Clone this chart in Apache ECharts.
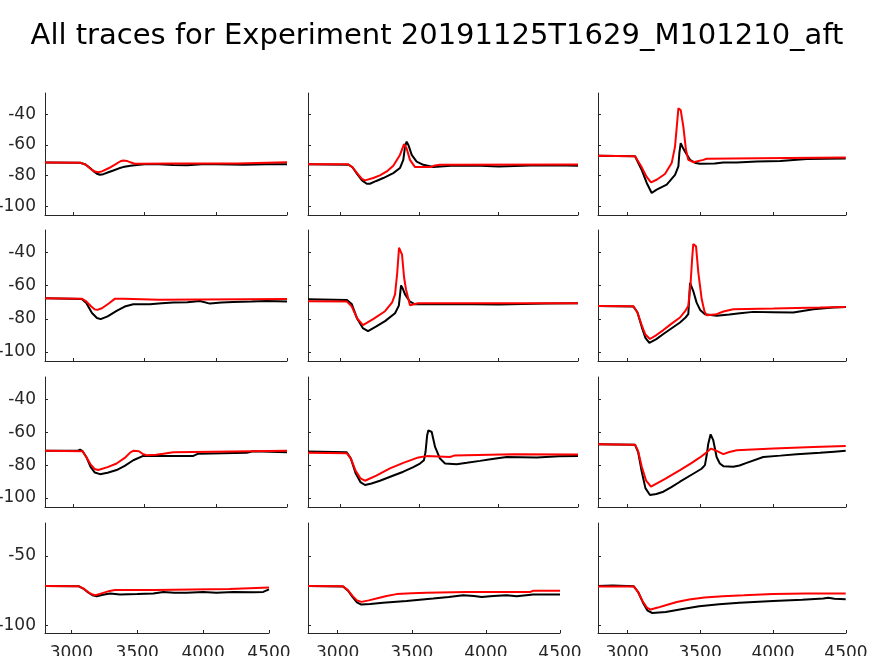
<!DOCTYPE html>
<html>
<head>
<meta charset="utf-8">
<script src="https://cdn.jsdelivr.net/npm/echarts@6/dist/echarts.min.js"></script>
<style>
html,body{margin:0;padding:0;background:#fff;}
#chart{width:874px;height:656px;}
</style>
</head>
<body>
<div id="chart"></div>
<script>
// ---- data (time in ms, membrane potential in mV) ----
const titleText = "All traces for Experiment 20191125T1629_M101210_aft";
const xTicks = [3000, 3500, 4000, 4500];
const yTicks = [-100, -80, -60, -40];
const yTicksBottom = [-100, -50];

// row 1
const exp_r1c1 = [[2800,-71.4],[3046,-71.6],[3080,-72.5],[3110,-74.5],[3140,-77],[3165,-78.7],[3186,-79.4],[3210,-79],[3250,-77.6],[3280,-76.6],[3320,-75.2],[3348,-74.4],[3400,-73.6],[3446,-73],[3500,-72.6],[3600,-72.6],[3700,-73],[3800,-73.2],[3900,-72.6],[4000,-72.6],[4200,-72.8],[4350,-72.6],[4500,-72.5]];
const sim_r1c1 = [[2800,-71.4],[3050,-71.6],[3085,-72.8],[3120,-75.5],[3150,-77.3],[3175,-77.8],[3200,-77.2],[3250,-75],[3300,-72.3],[3330,-70.6],[3350,-70.1],[3375,-70.4],[3400,-71.3],[3430,-72.2],[3446,-72.3],[3700,-72.1],[4150,-72],[4160,-71.4],[4500,-71.3]];
const exp_r1c2 = [[2800,-72.5],[3054,-72.8],[3080,-74.5],[3110,-79],[3140,-83],[3170,-85.2],[3190,-85.2],[3230,-83.4],[3274,-81.5],[3337,-78.3],[3379,-75],[3400,-69.7],[3411,-61.1],[3421,-57.9],[3432,-60],[3453,-66.5],[3484,-70.8],[3526,-72.9],[3589,-74.4],[3700,-73.6],[3850,-73.4],[4000,-74],[4200,-73.4],[4350,-73.2],[4500,-73.5]];
const sim_r1c2 = [[2800,-72.5],[3054,-72.6],[3080,-74.5],[3110,-78.5],[3140,-82],[3159,-83],[3211,-81.5],[3253,-79.8],[3296,-77.2],[3337,-73.5],[3379,-66.5],[3405,-59.5],[3420,-62],[3442,-69.7],[3474,-74.4],[3568,-74.4],[3600,-73.4],[3631,-72.9],[4500,-72.7]];
const exp_r1c3 = [[2800,-67.1],[3054,-67.4],[3065,-68.6],[3099,-76.1],[3134,-84.7],[3168,-91.2],[3202,-89],[3271,-85.8],[3328,-79.4],[3351,-74],[3358,-65],[3367,-58.9],[3380,-61.5],[3396,-64.3],[3431,-69.7],[3470,-71.8],[3499,-72.3],[3600,-72],[3659,-71.4],[3750,-71.4],[3888,-70.8],[4050,-70.4],[4231,-69.2],[4498,-68.8]];
const sim_r1c3 = [[2800,-67.1],[3054,-67.3],[3065,-67.9],[3099,-74.4],[3134,-80.8],[3163,-84.3],[3202,-82.6],[3259,-78.9],[3305,-71.8],[3328,-61.1],[3344,-43.9],[3351,-36.3],[3367,-37.4],[3385,-48.2],[3403,-63.2],[3419,-69.7],[3453,-71.2],[3522,-69.7],[3545,-69],[3900,-68.7],[4498,-68.2]];
// row 2
const exp_r2c1 = [[2800,-67.6],[3058,-68],[3090,-70.5],[3130,-76.5],[3165,-79.5],[3191,-80.2],[3240,-78.5],[3303,-75.2],[3360,-72.6],[3420,-71.2],[3537,-71.2],[3620,-70.6],[3701,-70.2],[3800,-70],[3888,-69.2],[3959,-70.8],[4040,-70.2],[4122,-69.8],[4250,-69.6],[4357,-69.2],[4500,-69.6]];
const sim_r2c1 = [[2800,-67.6],[3058,-67.8],[3090,-69.5],[3125,-72.5],[3150,-74.3],[3167,-74.6],[3200,-73.6],[3250,-70.6],[3292,-67.8],[3355,-67.8],[3362,-68.6],[3600,-68.5],[3610,-68],[4500,-68]];
const exp_r2c2 = [[2800,-68.2],[3045,-68.6],[3075,-71],[3110,-80],[3145,-85.6],[3178,-87.4],[3230,-84.6],[3285,-81.4],[3348,-76.6],[3372,-72],[3386,-59.8],[3398,-62],[3411,-65.2],[3440,-69.4],[3474,-71.2],[3700,-71],[4000,-71.4],[4300,-70.8],[4500,-70.6]];
const sim_r2c2 = [[2800,-69.4],[3045,-69.6],[3075,-72.5],[3110,-79.8],[3146,-83.8],[3210,-80.2],[3285,-75.4],[3330,-70],[3348,-65.2],[3362,-52],[3373,-37],[3392,-41.2],[3405,-55],[3417,-62.2],[3442,-71.8],[3493,-70.6],[4500,-70.6]];
const exp_r2c3 = [[2800,-72.2],[3042,-72.5],[3070,-76],[3100,-85],[3125,-91.5],[3152,-94.6],[3200,-92.3],[3248,-89.2],[3300,-86],[3362,-82.2],[3400,-79.2],[3419,-77.2],[3425,-68],[3431,-58.2],[3453,-63.2],[3476,-70.2],[3500,-74.6],[3533,-77.2],[3613,-78.2],[3700,-77.4],[3773,-76.6],[3864,-75.8],[4000,-76],[4139,-76.2],[4276,-74.2],[4413,-73.2],[4500,-72.8]];
const sim_r2c3 = [[2800,-72.2],[3042,-72.4],[3070,-76],[3100,-84],[3125,-89.5],[3156,-92.2],[3200,-89.8],[3248,-86.8],[3300,-83.2],[3362,-79.2],[3400,-75],[3419,-72.2],[3435,-58.2],[3445,-44],[3453,-34.8],[3472,-36.2],[3488,-52.2],[3511,-68.2],[3530,-75.6],[3545,-77.8],[3613,-77.2],[3660,-75.6],[3727,-74.2],[4002,-73.8],[4322,-73.2],[4498,-72.8]];
// row 3
const exp_r3c1 = [[2800,-71.3],[3030,-71.3],[3046,-70.6],[3064,-71.5],[3090,-75],[3120,-81],[3150,-84.5],[3186,-85.5],[3240,-84.6],[3303,-83],[3360,-80.4],[3420,-77],[3490,-74.4],[3678,-74.4],[3842,-74.4],[3877,-73],[4216,-72.5],[4263,-71.5],[4500,-72.1]];
const sim_r3c1 = [[2800,-71.3],[3064,-71.5],[3090,-75],[3120,-79.5],[3150,-82.4],[3174,-83],[3240,-81.2],[3303,-79],[3360,-75.6],[3400,-72.2],[3420,-71.3],[3460,-71.5],[3490,-73.4],[3514,-74],[3580,-73.6],[3631,-73],[3701,-72.1],[4240,-71.5],[4500,-71.3]];
const exp_r3c2 = [[2800,-71.7],[3044,-72.2],[3070,-76],[3100,-85],[3130,-90.3],[3159,-92.1],[3200,-91.2],[3253,-89.5],[3330,-86.6],[3400,-84],[3460,-81.4],[3505,-79],[3530,-77],[3540,-72],[3550,-62],[3558,-58.8],[3579,-59.8],[3600,-68.9],[3631,-76],[3663,-79],[3736,-79.4],[3800,-78.6],[3883,-77.4],[3960,-76.2],[4051,-75],[4240,-75.3],[4380,-74.6],[4500,-74.4]];
const sim_r3c2 = [[2800,-72.5],[3044,-72.7],[3070,-76],[3100,-83.5],[3130,-88],[3159,-89.5],[3230,-86.4],[3316,-82],[3400,-78.6],[3495,-75.3],[3547,-74.5],[3694,-75],[3720,-74.2],[3799,-73.9],[4093,-73.3],[4500,-73.5]];
const exp_r3c3 = [[2800,-67.3],[3054,-67.6],[3075,-72],[3100,-84],[3125,-94],[3156,-98.2],[3200,-97.6],[3248,-96.2],[3300,-93.6],[3362,-90.1],[3450,-85.4],[3510,-82.2],[3533,-80],[3545,-74],[3556,-66.9],[3572,-61.2],[3590,-64.8],[3613,-75],[3635,-79],[3659,-80.6],[3727,-81],[3770,-80.2],[3819,-78.6],[3933,-75],[4050,-74.2],[4162,-73.3],[4322,-72.5],[4420,-71.8],[4498,-71.3]];
const sim_r3c3 = [[2800,-67.3],[3054,-67.5],[3075,-71.5],[3100,-81],[3130,-89.5],[3163,-93.1],[3260,-88.4],[3362,-83],[3440,-78.8],[3499,-75.3],[3545,-72.2],[3575,-69.9],[3613,-71.3],[3659,-73.3],[3700,-72],[3751,-70.9],[4002,-69.9],[4276,-68.9],[4498,-68.3]];
// row 4
const exp_r4c1 = [[2800,-71.7],[3058,-71.9],[3090,-73.5],[3130,-76.5],[3160,-78.3],[3192,-79],[3240,-78],[3293,-77],[3369,-77.8],[3500,-77.4],[3622,-77],[3698,-75.9],[3780,-76.6],[3875,-76.6],[4000,-76],[4100,-76.6],[4229,-75.9],[4380,-76.2],[4456,-75.9],[4500,-74.1]];
const sim_r4c1 = [[2800,-71.7],[3058,-71.9],[3090,-73.4],[3130,-76.2],[3160,-77.8],[3184,-78.3],[3242,-76.6],[3290,-75.2],[3331,-74.6],[3630,-74.6],[3635,-73.9],[4200,-73.9],[4204,-72.7],[4500,-72.7]];
const exp_r4c2 = [[2800,-71.7],[3036,-72],[3070,-75],[3100,-79.5],[3130,-83.4],[3160,-85],[3220,-84.6],[3306,-83.8],[3464,-82.4],[3644,-80.7],[3750,-79.6],[3847,-78.3],[3920,-78.8],[3971,-79.5],[4050,-78.8],[4140,-78.3],[4208,-79],[4320,-77.8],[4500,-77.8]];
const sim_r4c2 = [[2800,-71.7],[3036,-71.9],[3070,-74.8],[3100,-78.8],[3130,-82],[3160,-83.1],[3210,-82],[3261,-80.7],[3330,-78.8],[3397,-77.5],[3500,-76.9],[3599,-76.6],[3870,-75.9],[4300,-75.9],[4320,-75.1],[4500,-75.1]];
const exp_r4c3 = [[2800,-71.6],[2900,-71.3],[3046,-71.9],[3075,-76],[3110,-84],[3140,-89.4],[3172,-91.1],[3264,-90.4],[3380,-88.2],[3494,-86.2],[3630,-84.8],[3770,-83.8],[4000,-82.4],[4200,-81.5],[4344,-80.7],[4380,-80.2],[4420,-80.8],[4498,-81.2]];
const sim_r4c3 = [[2800,-72],[3046,-72.1],[3075,-76],[3105,-82.5],[3135,-87.2],[3161,-88.6],[3210,-87.2],[3264,-85.5],[3340,-83.2],[3425,-81.4],[3530,-80],[3655,-79],[3800,-78.4],[4000,-77.5],[4229,-77],[4498,-77]];

const panels = [
  [exp_r1c1, sim_r1c1],[exp_r1c2, sim_r1c2],[exp_r1c3, sim_r1c3],
  [exp_r2c1, sim_r2c1],[exp_r2c2, sim_r2c2],[exp_r2c3, sim_r2c3],
  [exp_r3c1, sim_r3c1],[exp_r3c2, sim_r3c2],[exp_r3c3, sim_r3c3],
  [exp_r4c1, sim_r4c1],[exp_r4c2, sim_r4c2],[exp_r4c3, sim_r4c3]
];

// ---- layout ----
const rowBox = [[93,215],[230,361],[377,507],[523,633]];
const colBox = [[45,287],[308,578],[598,846]];
const colBoxBottom = [[45,269],[308,560],[598,846]];
const axisColor = '#262626';
const fontFamily = 'DejaVu Sans';

const grids = [], xAxes = [], yAxes = [], series = [];
for (let r = 0; r < 4; r++) {
  for (let c = 0; c < 3; c++) {
    const i = r * 3 + c;
    const cb = (r === 3 ? colBoxBottom : colBox)[c];
    grids.push({left: cb[0], width: cb[1] - cb[0], top: rowBox[r][0], height: rowBox[r][1] - rowBox[r][0],
      containLabel: false, outerBoundsMode: 'none'});
    xAxes.push({
      type: 'value', gridIndex: i, min: 2800, max: 4500,
      axisLine: {show: true, lineStyle: {color: axisColor, width: 1}},
      axisTick: {show: true, inside: true, length: 3, customValues: xTicks, lineStyle: {color: axisColor}},
      axisLabel: {show: r === 3, customValues: xTicks, formatter: v => String(v), color: axisColor, fontSize: 17, fontFamily: fontFamily, margin: 12},
      splitLine: {show: false}
    });
    const yt = r === 3 ? yTicksBottom : yTicks;
    yAxes.push({
      type: 'value', gridIndex: i, min: -105.5, max: -26.3,
      axisLine: {show: true, lineStyle: {color: axisColor, width: 1}},
      axisTick: {show: true, inside: true, length: 3, customValues: yt, lineStyle: {color: axisColor}},
      axisLabel: {show: c === 0, customValues: yt, formatter: v => String(v), color: axisColor, fontSize: 17, fontFamily: fontFamily, margin: 9},
      splitLine: {show: false}
    });
    series.push({type: 'line', xAxisIndex: i, yAxisIndex: i, data: panels[i][0], showSymbol: false, symbol: 'none',
      lineStyle: {color: '#000000', width: 2}, animation: false, z: 2});
    series.push({type: 'line', xAxisIndex: i, yAxisIndex: i, data: panels[i][1], showSymbol: false, symbol: 'none',
      lineStyle: {color: '#ff0000', width: 2}, animation: false, z: 3});
  }
}

const chart = echarts.init(document.getElementById('chart'), null, {renderer: 'canvas'});
chart.setOption({
  backgroundColor: '#ffffff',
  animation: false,
  title: {text: titleText, left: 'center', top: 17,
    textStyle: {fontFamily: fontFamily, fontSize: 29, fontWeight: 'normal', color: '#000000'}},
  grid: grids, xAxis: xAxes, yAxis: yAxes, series: series
});
</script>
</body>
</html>
